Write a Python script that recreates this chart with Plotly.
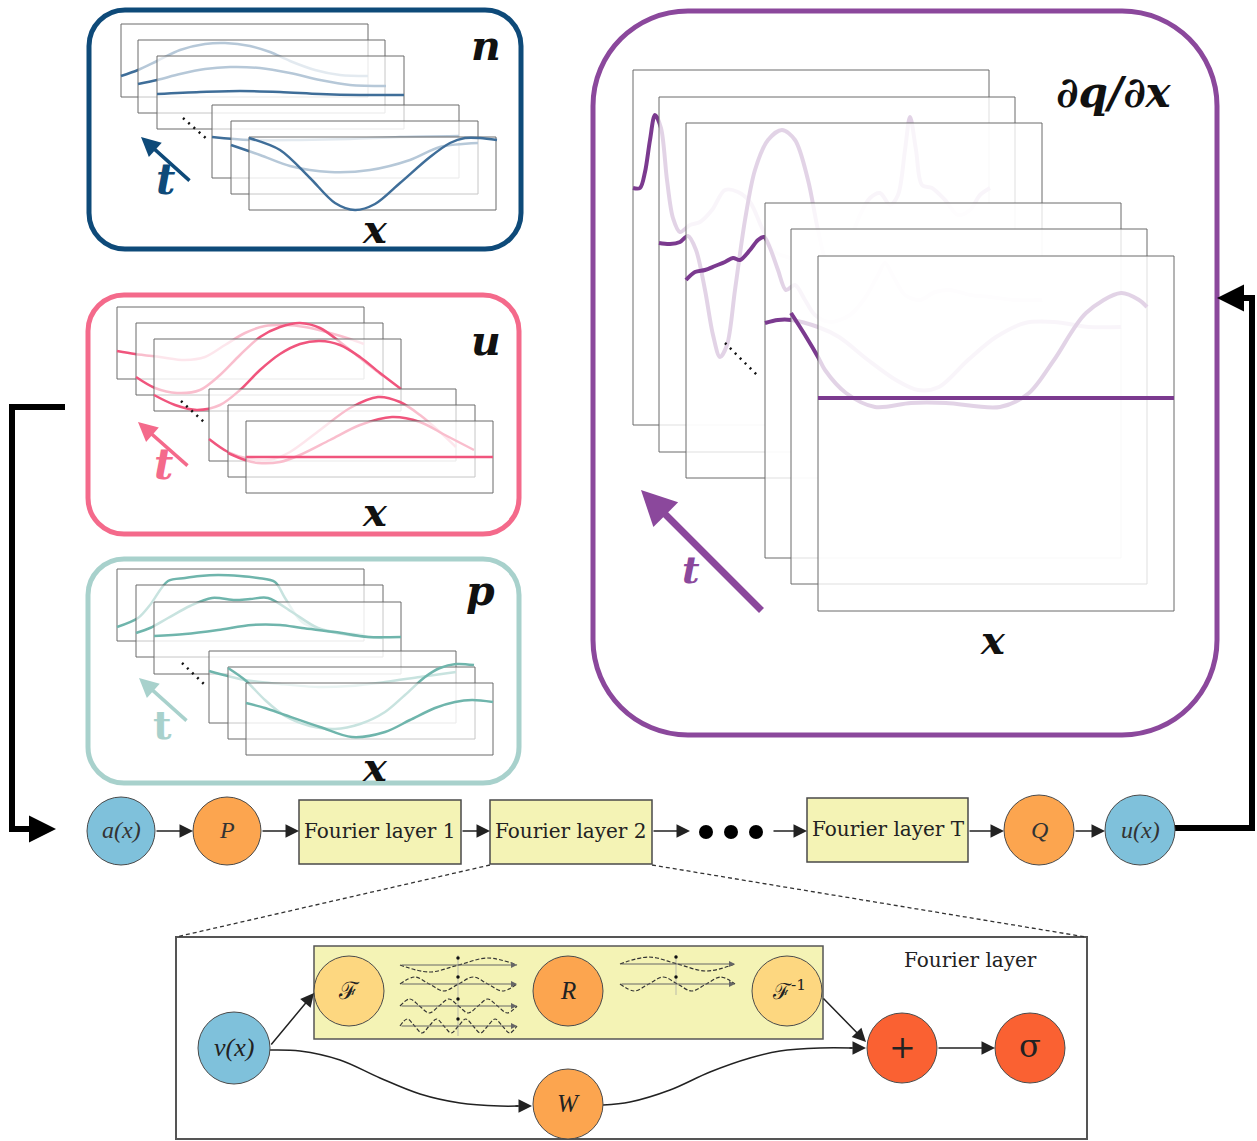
import plotly.graph_objects as go

FIG_W, FIG_H = 1257, 1141

# ---------------- sketched curves inside the stacked frames (diagram pixel units) ----------------
N_CURVE_X = [
    [121, 138, 157, 180, 205, 225, 250, 270, 290, 315, 340, 368],
    [138, 157, 180, 205, 230, 260, 290, 320, 350, 386],
    [157, 200, 240, 280, 320, 360, 404],
    [212, 250, 300, 350, 400, 459],
    [231, 260, 290, 330, 370, 410, 440, 478],
    [249, 280, 310, 335, 355, 375, 400, 430, 450, 465, 480, 497],
]
N_CURVE_Y = [
    [76, 70, 61, 50, 44, 43, 46, 52, 61, 70, 75, 76],
    [84, 80, 74, 69, 67, 68, 73, 80, 85, 86],
    [94, 92, 91, 92, 94, 95, 95],
    [137, 140, 140, 139, 137, 136],
    [145, 155, 166, 172, 170, 160, 147, 143],
    [138, 150, 178, 203, 210, 204, 183, 157, 143, 138, 138, 140],
]

U_CURVE_X = [
    [117, 135, 160, 185, 205, 225, 245, 265, 285, 305, 330, 350, 364],
    [136, 155, 177, 200, 220, 240, 260, 280, 300, 320, 340, 360, 383],
    [154, 175, 197, 220, 240, 260, 280, 300, 320, 340, 360, 380, 401],
    [209, 228, 250, 270, 290, 320, 350, 378, 400, 420, 440, 456],
    [228, 245, 258, 280, 300, 330, 360, 392, 420, 445, 474],
    [246, 493],
]
U_CURVE_Y = [
    [351, 354, 357, 360, 357, 345, 333, 326, 325, 327, 333, 339, 344],
    [377, 388, 393, 390, 375, 355, 337, 327, 323, 328, 342, 358, 376],
    [395, 405, 410, 405, 390, 370, 354, 344, 341, 345, 357, 373, 389],
    [439, 452, 459, 460, 452, 430, 408, 397, 402, 415, 432, 447],
    [453, 460, 463, 462, 455, 440, 425, 417, 422, 435, 450],
    [457, 457],
]

P_CURVE_X = [
    [117, 138, 150, 168, 185, 200, 218, 240, 258, 275, 285, 302, 320, 335, 364],
    [136, 150, 168, 190, 212, 235, 250, 268, 292, 318, 350, 383],
    [154, 185, 218, 252, 280, 302, 335, 368, 401],
    [209, 245, 280, 318, 350, 385, 420, 456],
    [228, 245, 265, 285, 310, 335, 360, 385, 405, 425, 440, 456, 474],
    [246, 265, 285, 320, 352, 385, 410, 435, 455, 472, 493],
]
P_CURVE_Y = [
    [627, 618, 605, 581, 578, 576, 575, 576, 578, 582, 598, 622, 629, 632, 635],
    [633, 628, 618, 606, 598, 600, 599, 598, 612, 628, 635, 638],
    [636, 634, 630, 625, 625, 628, 632, 637, 637],
    [671, 680, 684, 687, 686, 682, 677, 672],
    [668, 680, 700, 716, 726, 729, 724, 712, 695, 677, 668, 664, 665],
    [703, 708, 715, 727, 737, 732, 720, 708, 702, 700, 702],
]

Q_CURVE_X = [
    [633, 640, 645, 650, 655, 661, 667, 673, 680, 690, 700, 712, 725, 738, 750, 762, 775, 790, 805,
     820, 835, 848, 860, 870, 880, 890, 898, 905, 910, 916, 922, 932, 945, 958, 970, 980, 990],
    [659, 670, 680, 688, 696, 705, 713, 720, 727, 735, 745, 755, 768, 782, 795, 808, 818, 828, 840,
     855, 870, 885, 900, 920, 940, 960, 985, 1016],
    [686, 695, 705, 715, 725, 733, 740, 750, 758, 764, 770, 778, 786, 795, 805, 815, 830, 850, 865,
     878, 885, 893, 905, 920, 935, 950, 970, 990, 1015, 1042],
    [765, 778, 791, 818, 839, 868, 896, 918, 939, 968, 996, 1025, 1054, 1089, 1121],
    [791, 805, 818, 825, 846, 875, 911, 946, 1000, 1029, 1054, 1086, 1121, 1139, 1147],
    [818, 1174],
]
Q_CURVE_Y = [
    [188, 188, 172, 140, 115, 128, 180, 218, 232, 225, 222, 210, 190, 192, 202, 228, 252, 258, 265,
     272, 266, 245, 215, 198, 193, 205, 195, 150, 117, 150, 185, 188, 200, 215, 210, 195, 188],
    [243, 244, 242, 236, 250, 290, 335, 357, 345, 290, 220, 170, 140, 130, 140, 180, 230, 268, 282,
     285, 280, 282, 285, 290, 292, 290, 288, 288],
    [280, 272, 270, 266, 262, 258, 260, 250, 240, 237, 248, 270, 290, 285, 300, 315, 322, 315, 298,
     275, 263, 276, 295, 300, 292, 290, 295, 297, 300, 300],
    [323, 320, 320, 327, 337, 360, 380, 390, 387, 360, 337, 323, 322, 327, 327],
    [313, 335, 357, 370, 393, 407, 403, 403, 407, 393, 360, 313, 293, 300, 307],
    [398, 398],
]

# basis-wave sketches in the Fourier layer (values at quarter periods)
WAVE_LEFT_VALUES = [
    [0, -1, 0, 1, 0],
    [0, 1, 0, -1, 0, 1, 0, -1, 0],
    [0, 1, 0, -1, 0, 1, 0, -1, 0, 1, 0, -1, 0],
    [0, 1, 0, -1, 0, 1, 0, -1, 0, 1, 0, -1, 0, 1, 0, -1, 0],
]
WAVE_RIGHT_VALUES = [
    [0, 1, 0, -1, 0],
    [0, -1, 0, 1, 0, -1, 0, 1, 0],
]

# pipeline labels
PIPE_NODES = ["a(x)", "P", "Q", "u(x)"]
PIPE_LAYERS = ["Fourier layer 1", "Fourier layer 2", "Fourier layer T"]
PANEL_LABELS = ["n", "u", "p", "∂q/∂x"]

# ---------------- layout geometry ----------------
N_FRAMES = [(121, 24), (138, 40), (157, 56), (212, 105), (231, 121), (249, 137)]
U_FRAMES = [(117, 307), (136, 323), (154, 339), (209, 389), (228, 405), (246, 421)]
P_FRAMES = [(117, 569), (136, 585), (154, 602), (209, 651), (228, 667), (246, 683)]
Q_FRAMES = [(633, 70), (659, 97), (686, 123), (765, 203), (791, 229), (818, 256)]
SMALL_SIZE = (247, 73)
BIG_SIZE = (356, 355)

C_N = "#0e4a79"
C_U = "#f46a8b"
C_P = "#a8d1cc"
C_Q = "#8b489c"
SERIF = "Liberation Serif"
MATH = "DejaVu Serif"

fig = go.Figure()
shapes = []
annos = []


def rrect(x0, y0, x1, y1, r):
    k = 0.5523 * r
    return (f"M{x0 + r},{y0} L{x1 - r},{y0} C{x1 - r + k},{y0} {x1},{y0 + r - k} {x1},{y0 + r} "
            f"L{x1},{y1 - r} C{x1},{y1 - r + k} {x1 - r + k},{y1} {x1 - r},{y1} "
            f"L{x0 + r},{y1} C{x0 + r - k},{y1} {x0},{y1 - r + k} {x0},{y1 - r} "
            f"L{x0},{y0 + r} C{x0},{y0 + r - k} {x0 + r - k},{y0} {x0 + r},{y0} Z")


def line_trace(xs, ys, color, width, shape="linear", dash="solid", smoothing=1.0):
    fig.add_trace(go.Scatter(x=xs, y=ys, mode="lines", hoverinfo="skip", showlegend=False,
                             line=dict(color=color, width=width, shape=shape, dash=dash,
                                       smoothing=smoothing)))


def add_stack(frames, size, cxs, cys, color, width, veil):
    w, h = size
    for (x0, y0), cx, cy in zip(frames, cxs, cys):
        fig.add_trace(go.Scatter(x=[x0, x0 + w, x0 + w, x0, x0], y=[y0, y0, y0 + h, y0 + h, y0],
                                 mode="lines", fill="toself", fillcolor=f"rgba(255,255,255,{veil})",
                                 line=dict(color="#6a6a6a", width=1), hoverinfo="skip",
                                 showlegend=False))
        line_trace(cx, cy, color, width, shape="spline", smoothing=0.9)


def arrow(x0, y0, x1, y1, color="#222", width=1.5, size=1.0, head=2):
    annos.append(dict(x=x1, y=y1, ax=x0, ay=y0, xref="x", yref="y", axref="x", ayref="y",
                      text="", showarrow=True, arrowhead=head, arrowsize=size,
                      arrowwidth=width, arrowcolor=color, standoff=0, startstandoff=0))


def label(text, x, y, size, color="#111", family=SERIF):
    annos.append(dict(x=x, y=y, xref="x", yref="y", text=text, showarrow=False,
                      font=dict(size=size, color=color, family=family),
                      xanchor="center", yanchor="middle"))


def circle(cx, cy, r, fill):
    shapes.append(dict(type="circle", xref="x", yref="y", x0=cx - r, x1=cx + r, y0=cy - r, y1=cy + r,
                       fillcolor=fill, line=dict(color="#4a4a4a", width=1), layer="above"))


def rect(x0, y0, x1, y1, fill, lw=1.5, color="#4a4a4a", layer="below"):
    shapes.append(dict(type="rect", xref="x", yref="y", x0=x0, x1=x1, y0=y0, y1=y1,
                       fillcolor=fill, line=dict(color=color, width=lw), layer=layer))


# ---------------- panels ----------------
for (x0, y0, x1, y1, r, c) in [(89, 10, 521, 249, 36, C_N), (88, 295, 519, 534, 36, C_U),
                              (88, 559, 519, 783, 36, C_P), (593, 11, 1217, 735, 95, C_Q)]:
    shapes.append(dict(type="path", xref="x", yref="y", path=rrect(x0, y0, x1, y1, r),
                       line=dict(color=c, width=5), fillcolor="rgba(0,0,0,0)", layer="below"))

add_stack(N_FRAMES, SMALL_SIZE, N_CURVE_X, N_CURVE_Y, "#3f6e99", 2.5, 0.62)
add_stack(U_FRAMES, (247, 72), U_CURVE_X, U_CURVE_Y, "#f0557d", 2.5, 0.62)
add_stack(P_FRAMES, (247, 72), P_CURVE_X, P_CURVE_Y, "#6fb5ac", 2.5, 0.62)
add_stack(Q_FRAMES, BIG_SIZE, Q_CURVE_X, Q_CURVE_Y, "#7b3a8f", 4, 0.78)

# ellipsis dots between the frame groups
for (xa, ya, xb, yb) in [(183, 118, 208, 140), (181, 401, 205, 423), (182, 663, 205, 685),
                         (725, 343, 759, 377)]:
    line_trace([xa, xb], [ya, yb], "#111", 2.5, dash="2px,5px")

# t arrows
arrow(191, 182, 141, 137, C_N, 3.5, 1.1)
arrow(189, 467, 138, 422, C_U, 3.5, 1.1)
arrow(188, 722, 139, 678, C_P, 3.5, 1.1)
arrow(763, 612, 641, 490, C_Q, 7, 1.0)
label("<b><i>t</i></b>", 165, 179, 42, C_N, MATH)
label("<b><i>t</i></b>", 163, 464, 42, C_U, MATH)
label("<b>t</b>", 162, 724, 40, C_P, MATH)
label("<b><i>t</i></b>", 691, 569, 38, C_Q, MATH)

# panel labels
label("<b><i>" + PANEL_LABELS[0] + "</i></b>", 486, 46, 41, "#111", MATH)
label("<b><i>" + PANEL_LABELS[1] + "</i></b>", 486, 341, 41, "#111", MATH)
label("<b><i>" + PANEL_LABELS[2] + "</i></b>", 480, 591, 41, "#111", MATH)
label("<b><i>" + PANEL_LABELS[3] + "</i></b>", 1114, 92, 42, "#111", MATH)
for (x, y) in [(375, 228), (375, 511), (375, 766), (993, 639)]:
    label("<b><i>x</i></b>", x, y, 40, "#111", MATH)

# ---------------- pipeline ----------------
LIGHT_BLUE = "#7fc1db"
ORANGE = "#fca54f"
PALE_ORANGE = "#fdd780"
RED = "#fa6132"
YELLOW = "#f4f3b5"

circle(121, 831, 34, LIGHT_BLUE)
circle(227, 831, 34, ORANGE)
circle(1039, 830, 35, ORANGE)
circle(1140, 830, 35, LIGHT_BLUE)
rect(299, 800, 461, 864, YELLOW, layer="above")
rect(490, 800, 652, 864, YELLOW, layer="above")
rect(807, 798, 968, 862, YELLOW, layer="above")
for cx in (706, 731, 756):
    shapes.append(dict(type="circle", xref="x", yref="y", x0=cx - 7, x1=cx + 7, y0=825, y1=839,
                       fillcolor="#000", line=dict(color="#000", width=0), layer="above"))

label("<i>" + PIPE_NODES[0] + "</i>", 121, 830, 24, "#333")
label("<i>" + PIPE_NODES[1] + "</i>", 227, 830, 24, "#333")
label("<i>" + PIPE_NODES[2] + "</i>", 1039, 830, 24, "#333")
label("<i>" + PIPE_NODES[3] + "</i>", 1140, 830, 24, "#333")
label(PIPE_LAYERS[0], 380, 831, 20, "#222", MATH)
label(PIPE_LAYERS[1], 571, 831, 20, "#222", MATH)
label(PIPE_LAYERS[2], 888, 829, 20, "#222", MATH)

for (xa, xb) in [(155, 193), (261, 299), (461, 490), (652, 690), (772, 807), (968, 1004), (1074, 1105)]:
    arrow(xa, 831, xb, 831, "#222", 1.5, 1.8)

# feedback connections
line_trace([1175, 1252, 1252, 1236], [828, 828, 298, 298], "#000", 6)
arrow(1240, 298, 1217, 298, "#000", 6, 0.9)
line_trace([65, 12, 12, 38], [407, 407, 829, 829], "#000", 6)
arrow(30, 829, 56, 829, "#000", 6, 0.9)

# zoom lines to the Fourier layer detail
line_trace([490, 176], [865, 937], "#333", 1.3, dash="4px,3px")
line_trace([652, 1086], [865, 937], "#333", 1.3, dash="4px,3px")

# ---------------- Fourier layer detail ----------------
rect(176, 937, 1087, 1139, "rgba(0,0,0,0)", lw=2, color="#555")
rect(314, 946, 823, 1039, YELLOW, lw=1.5, color="#555")
label("Fourier layer", 970, 960, 20, "#222", MATH)

circle(234, 1048, 36, LIGHT_BLUE)
circle(349, 991, 35, PALE_ORANGE)
circle(568, 991, 35, ORANGE)
circle(787, 991, 35, PALE_ORANGE)
circle(568, 1104, 35, ORANGE)
circle(902, 1048, 35, RED)
circle(1030, 1048, 35, RED)

label("<i>v(x)</i>", 234, 1047, 26, "#222")
label("ℱ", 349, 991, 24, "#222", MATH)
label("<i>R</i>", 568, 990, 25, "#222")
label("ℱ<sup>-1</sup>", 789, 990, 22, "#222", MATH)
label("<i>W</i>", 568, 1103, 25, "#222")
label("+", 902, 1047, 32, "#222", MATH)
label("σ", 1030, 1046, 32, "#222", MATH)

arrow(270, 1046, 314, 993, "#222", 1.5, 1.8)
arrow(822, 997, 866, 1042, "#222", 1.5, 1.8)
arrow(937, 1048, 995, 1048, "#222", 1.5, 1.8)
line_trace([270, 300, 340, 380, 420, 460, 500, 518], [1050, 1051, 1060, 1078, 1094, 1103, 1106, 1106],
           "#222", 1.5, shape="spline")
arrow(514, 1106, 532, 1106, "#222", 1.5, 1.8)
line_trace([603, 630, 670, 710, 750, 780, 820, 852], [1105, 1102, 1090, 1072, 1058, 1051, 1048, 1048],
           "#222", 1.5, shape="spline")
arrow(848, 1048, 866, 1048, "#222", 1.5, 1.8)


def wave_group(values_list, x0, x1, rows, vline_top, vline_bot, vx, amp=7):
    line_trace([vx, vx], [vline_top, vline_bot], "#bbbbaa", 1)
    for vals, y0 in zip(values_list, rows):
        n = len(vals) - 1
        xs = [x0 + (x1 - x0) * i / n for i in range(n + 1)]
        ys = [y0 - amp * v for v in vals]
        arrow(x0, y0, x1, y0, "#666", 1, 1.2)
        line_trace(xs, ys, "#333", 1.2, shape="spline", dash="4px,2px")
        fig.add_trace(go.Scatter(x=[vx], y=[y0 - 7], mode="markers", hoverinfo="skip", showlegend=False,
                                 marker=dict(size=3.5, color="#111")))


wave_group(WAVE_LEFT_VALUES, 400, 517, [965, 984, 1006, 1026], 955, 1036, 458)
wave_group(WAVE_RIGHT_VALUES, 620, 735, [964, 984], 955, 995, 676)

fig.update_layout(
    width=FIG_W, height=FIG_H, margin=dict(l=0, r=0, t=0, b=0),
    paper_bgcolor="white", plot_bgcolor="white", showlegend=False,
    xaxis=dict(range=[0, FIG_W], visible=False, fixedrange=True),
    yaxis=dict(range=[FIG_H, 0], visible=False, fixedrange=True),
    shapes=shapes, annotations=annos,
)

fig.write_html("out.html", include_plotlyjs=True, full_html=True,
               config={"displayModeBar": False},
               post_script="document.body.style.margin='0';document.body.style.overflow='hidden';")
